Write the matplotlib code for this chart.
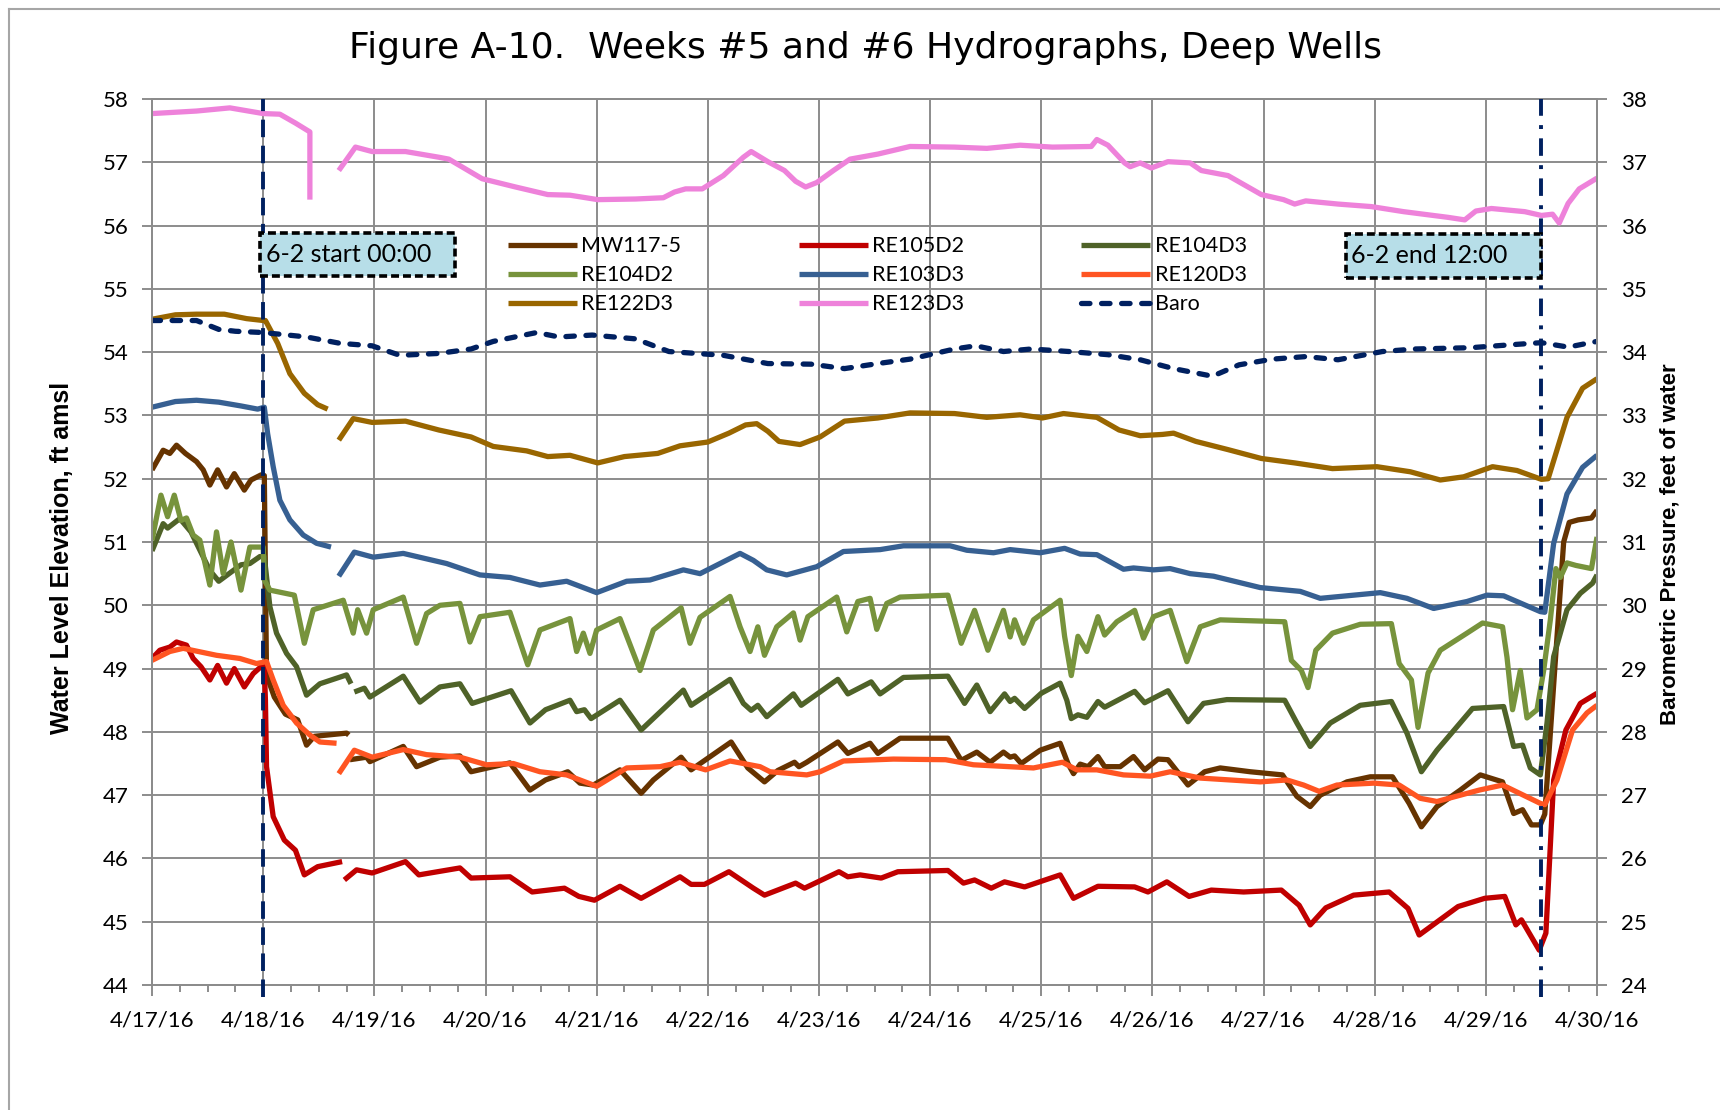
import numpy as np
import matplotlib.pyplot as plt
from matplotlib.lines import Line2D
from matplotlib.patches import Rectangle

# time is days since 4/17/16 00:00, values in ft amsl (Baro in ft of water)
GAP = (np.nan, np.nan)

date_labels = ['4/17/16', '4/18/16', '4/19/16', '4/20/16', '4/21/16', '4/22/16', '4/23/16',
               '4/24/16', '4/25/16', '4/26/16', '4/27/16', '4/28/16', '4/29/16', '4/30/16']

mw117_5 = [(0.00, 52.14), (0.10, 52.45), (0.16, 52.40), (0.22, 52.53), (0.30, 52.40), (0.40, 52.27),
           (0.46, 52.14), (0.52, 51.90), (0.59, 52.14), (0.67, 51.87), (0.74, 52.08), (0.83, 51.82),
           (0.89, 51.98), (0.98, 52.06), (1.01, 52.05), (1.03, 48.90), (1.10, 48.55), (1.20, 48.28),
           (1.31, 48.19), (1.39, 47.79), (1.46, 47.93), (1.75, 47.98), (1.77, 47.95), GAP,
           (1.78, 47.56), (1.93, 47.60), (1.96, 47.53), (2.26, 47.77), (2.38, 47.45), (2.59, 47.60),
           (2.77, 47.62), (2.87, 47.37), (3.22, 47.51), (3.40, 47.08), (3.54, 47.24), (3.74, 47.37),
           (3.85, 47.19), (3.97, 47.16), (4.21, 47.40), (4.40, 47.03), (4.51, 47.24), (4.76, 47.60),
           (4.85, 47.40), (5.21, 47.84), (5.36, 47.43), (5.51, 47.21), (5.63, 47.39), (5.78, 47.52),
           (5.82, 47.45), (5.89, 47.52), (6.17, 47.84), (6.26, 47.66), (6.46, 47.82), (6.53, 47.66),
           (6.73, 47.90), (7.16, 47.90), (7.28, 47.55), (7.42, 47.68), (7.54, 47.52), (7.66, 47.68),
           (7.72, 47.60), (7.76, 47.62), (7.82, 47.50), (7.99, 47.71), (8.17, 47.82), (8.24, 47.50),
           (8.29, 47.34), (8.35, 47.49), (8.42, 47.45), (8.51, 47.61), (8.57, 47.45), (8.71, 47.45),
           (8.83, 47.61), (8.93, 47.40), (9.05, 47.57), (9.14, 47.56), (9.32, 47.16), (9.47, 47.37),
           (9.61, 47.43), (9.88, 47.37), (10.17, 47.32), (10.30, 46.98), (10.42, 46.82), (10.51, 47.00),
           (10.75, 47.21), (10.96, 47.29), (11.16, 47.29), (11.31, 46.87), (11.42, 46.50), (11.56, 46.82),
           (11.77, 47.08), (11.95, 47.32), (12.15, 47.21), (12.25, 46.71), (12.33, 46.77), (12.41, 46.53),
           (12.49, 46.53), (12.53, 46.70), (12.62, 49.00), (12.70, 51.00), (12.75, 51.31), (12.83, 51.35),
           (12.95, 51.38), (13.00, 51.50)]

re105d2 = [(0.00, 49.16), (0.07, 49.29), (0.16, 49.34), (0.22, 49.42), (0.31, 49.37), (0.37, 49.16),
           (0.44, 49.03), (0.52, 48.82), (0.59, 49.05), (0.67, 48.77), (0.74, 49.00), (0.83, 48.71),
           (0.91, 48.92), (0.98, 49.03), (1.01, 49.03), (1.02, 48.50), (1.03, 47.45), (1.09, 46.66),
           (1.19, 46.29), (1.29, 46.13), (1.37, 45.74), (1.49, 45.87), (1.71, 45.95), GAP,
           (1.73, 45.66), (1.84, 45.82), (1.98, 45.77), (2.28, 45.95), (2.40, 45.74), (2.77, 45.85),
           (2.87, 45.69), (3.22, 45.71), (3.42, 45.47), (3.71, 45.53), (3.84, 45.40), (3.98, 45.34),
           (4.21, 45.56), (4.40, 45.37), (4.75, 45.71), (4.85, 45.59), (4.97, 45.59), (5.19, 45.79),
           (5.41, 45.53), (5.51, 45.42), (5.79, 45.61), (5.87, 45.53), (6.18, 45.79), (6.26, 45.71),
           (6.37, 45.74), (6.56, 45.69), (6.71, 45.79), (7.16, 45.81), (7.30, 45.61), (7.40, 45.66),
           (7.55, 45.53), (7.67, 45.63), (7.85, 45.55), (8.17, 45.74), (8.29, 45.37), (8.51, 45.56),
           (8.84, 45.55), (8.96, 45.47), (9.13, 45.63), (9.33, 45.40), (9.53, 45.50), (9.82, 45.47),
           (10.16, 45.50), (10.32, 45.26), (10.42, 44.95), (10.56, 45.22), (10.81, 45.42), (11.13, 45.47),
           (11.30, 45.21), (11.40, 44.79), (11.75, 45.24), (11.99, 45.37), (12.17, 45.40), (12.27, 44.95),
           (12.32, 45.03), (12.48, 44.55), (12.54, 44.82), (12.61, 47.24), (12.72, 48.03), (12.85, 48.45),
           (13.00, 48.61)]

re104d3 = [(0.00, 50.86), (0.10, 51.29), (0.14, 51.22), (0.25, 51.37), (0.35, 51.16), (0.52, 50.55),
           (0.60, 50.38), (0.80, 50.64), (0.88, 50.66), (0.97, 50.77), (1.01, 50.77), (1.06, 49.98),
           (1.12, 49.56), (1.21, 49.24), (1.30, 49.03), (1.39, 48.58), (1.51, 48.76), (1.75, 48.90),
           (1.79, 48.76), GAP, (1.82, 48.63), (1.91, 48.69), (1.96, 48.55), (2.26, 48.88), (2.41, 48.47),
           (2.59, 48.71), (2.77, 48.76), (2.88, 48.45), (3.23, 48.65), (3.40, 48.14), (3.54, 48.35),
           (3.76, 48.50), (3.82, 48.32), (3.89, 48.35), (3.95, 48.21), (4.21, 48.50), (4.40, 48.03),
           (4.78, 48.66), (4.85, 48.42), (5.20, 48.83), (5.32, 48.45), (5.39, 48.34), (5.45, 48.42),
           (5.53, 48.24), (5.77, 48.60), (5.84, 48.42), (6.17, 48.83), (6.26, 48.60), (6.47, 48.79),
           (6.55, 48.60), (6.76, 48.86), (7.16, 48.88), (7.31, 48.45), (7.42, 48.74), (7.54, 48.32),
           (7.67, 48.60), (7.72, 48.48), (7.76, 48.53), (7.85, 48.37), (8.00, 48.61), (8.17, 48.77),
           (8.23, 48.50), (8.27, 48.21), (8.33, 48.27), (8.41, 48.23), (8.51, 48.48), (8.57, 48.39),
           (8.84, 48.64), (8.93, 48.46), (9.14, 48.65), (9.32, 48.16), (9.46, 48.45), (9.67, 48.51),
           (10.19, 48.50), (10.30, 48.14), (10.42, 47.77), (10.60, 48.14), (10.87, 48.42), (11.15, 48.48),
           (11.29, 47.98), (11.42, 47.37), (11.56, 47.71), (11.88, 48.37), (12.16, 48.40), (12.25, 47.77),
           (12.33, 47.79), (12.40, 47.43), (12.49, 47.32), (12.55, 48.14), (12.61, 49.19), (12.73, 49.93),
           (12.85, 50.19), (12.96, 50.35), (13.00, 50.48)]

re104d2 = [(0.00, 51.03), (0.08, 51.74), (0.14, 51.40), (0.20, 51.74), (0.26, 51.34), (0.31, 51.38),
           (0.37, 51.11), (0.43, 51.03), (0.52, 50.32), (0.58, 51.16), (0.64, 50.50), (0.71, 51.00),
           (0.80, 50.24), (0.88, 50.92), (1.00, 50.92), (1.01, 50.40), (1.06, 50.24), (1.28, 50.16),
           (1.37, 49.40), (1.45, 49.93), (1.72, 50.08), (1.81, 49.56), (1.85, 49.93), (1.93, 49.56),
           (1.99, 49.93), (2.26, 50.13), (2.38, 49.40), (2.47, 49.87), (2.59, 50.00), (2.77, 50.03),
           (2.86, 49.42), (2.95, 49.82), (3.22, 49.89), (3.38, 49.06), (3.49, 49.61), (3.76, 49.79),
           (3.82, 49.27), (3.88, 49.56), (3.94, 49.24), (4.00, 49.61), (4.21, 49.79), (4.39, 48.97),
           (4.51, 49.61), (4.76, 49.96), (4.84, 49.40), (4.93, 49.81), (5.20, 50.14), (5.29, 49.66),
           (5.38, 49.27), (5.45, 49.66), (5.51, 49.21), (5.62, 49.66), (5.77, 49.88), (5.83, 49.45),
           (5.90, 49.82), (6.16, 50.13), (6.25, 49.58), (6.35, 50.06), (6.46, 50.11), (6.52, 49.62),
           (6.61, 50.03), (6.73, 50.13), (7.16, 50.16), (7.28, 49.40), (7.40, 49.92), (7.52, 49.29),
           (7.66, 49.92), (7.72, 49.50), (7.76, 49.77), (7.84, 49.40), (7.93, 49.77), (8.17, 50.08),
           (8.21, 49.51), (8.27, 48.89), (8.33, 49.51), (8.41, 49.27), (8.51, 49.82), (8.57, 49.53),
           (8.68, 49.74), (8.84, 49.92), (8.92, 49.48), (9.01, 49.82), (9.16, 49.92), (9.31, 49.11),
           (9.43, 49.66), (9.61, 49.77), (10.19, 49.74), (10.25, 49.13), (10.34, 48.97), (10.40, 48.70),
           (10.47, 49.29), (10.62, 49.56), (10.87, 49.70), (11.15, 49.71), (11.22, 49.08), (11.33, 48.82),
           (11.39, 48.07), (11.48, 48.93), (11.59, 49.29), (11.83, 49.56), (11.97, 49.72), (12.15, 49.66),
           (12.19, 49.18), (12.24, 48.35), (12.31, 48.97), (12.37, 48.22), (12.46, 48.35), (12.52, 48.97),
           (12.58, 49.77), (12.63, 50.58), (12.67, 50.44), (12.73, 50.67), (12.81, 50.63), (12.95, 50.58),
           (13.00, 51.08)]

re103d3 = [(0.00, 53.13), (0.21, 53.22), (0.40, 53.24), (0.60, 53.21), (0.80, 53.15), (0.95, 53.10),
           (1.01, 53.13), (1.04, 52.71), (1.09, 52.19), (1.15, 51.66), (1.24, 51.35), (1.36, 51.11),
           (1.48, 50.98), (1.61, 50.92), GAP, (1.68, 50.46), (1.82, 50.84), (1.99, 50.76), (2.26, 50.82),
           (2.65, 50.66), (2.95, 50.48), (3.22, 50.44), (3.49, 50.32), (3.73, 50.38), (4.00, 50.20),
           (4.27, 50.38), (4.48, 50.40), (4.78, 50.56), (4.93, 50.50), (5.29, 50.82), (5.41, 50.71),
           (5.53, 50.56), (5.71, 50.48), (5.98, 50.61), (6.22, 50.85), (6.55, 50.88), (6.76, 50.94),
           (7.18, 50.94), (7.33, 50.87), (7.57, 50.83), (7.72, 50.88), (7.99, 50.83), (8.21, 50.90),
           (8.35, 50.81), (8.50, 50.80), (8.74, 50.57), (8.83, 50.59), (9.01, 50.56), (9.16, 50.58),
           (9.34, 50.50), (9.55, 50.46), (9.97, 50.28), (10.33, 50.22), (10.51, 50.11), (11.05, 50.20),
           (11.29, 50.11), (11.53, 49.95), (11.83, 50.06), (12.01, 50.16), (12.16, 50.15), (12.49, 49.90),
           (12.53, 49.89), (12.61, 50.98), (12.73, 51.76), (12.87, 52.18), (13.00, 52.37)]

re120d3 = [(0.00, 49.13), (0.16, 49.27), (0.28, 49.32), (0.58, 49.21), (0.79, 49.16), (0.94, 49.08),
           (1.03, 49.11), (1.09, 48.82), (1.18, 48.42), (1.30, 48.14), (1.42, 47.95), (1.51, 47.84),
           (1.66, 47.82), GAP, (1.68, 47.34), (1.82, 47.71), (1.98, 47.60), (2.26, 47.72), (2.47, 47.64),
           (2.77, 47.60), (3.01, 47.48), (3.25, 47.50), (3.49, 47.37), (3.73, 47.32), (4.00, 47.14),
           (4.27, 47.43), (4.57, 47.45), (4.75, 47.52), (4.98, 47.40), (5.20, 47.54), (5.47, 47.45),
           (5.56, 47.37), (5.89, 47.32), (6.01, 47.37), (6.22, 47.54), (6.67, 47.57), (7.14, 47.56),
           (7.39, 47.48), (7.93, 47.43), (8.19, 47.52), (8.32, 47.40), (8.50, 47.40), (8.74, 47.32),
           (8.98, 47.30), (9.16, 47.37), (9.43, 47.27), (9.97, 47.21), (10.21, 47.24), (10.36, 47.16),
           (10.50, 47.06), (10.66, 47.16), (10.99, 47.19), (11.22, 47.16), (11.41, 46.95), (11.56, 46.90),
           (11.94, 47.08), (12.15, 47.16), (12.49, 46.87), (12.53, 46.85), (12.64, 47.24), (12.78, 48.03),
           (12.91, 48.30), (13.00, 48.42)]

re122d3 = [(0.00, 54.52), (0.21, 54.59), (0.40, 54.60), (0.65, 54.60), (0.85, 54.53), (1.00, 54.50),
           (1.02, 54.50), (1.13, 54.14), (1.24, 53.66), (1.37, 53.35), (1.49, 53.17), (1.58, 53.10), GAP,
           (1.68, 52.61), (1.81, 52.95), (1.98, 52.89), (2.28, 52.91), (2.58, 52.77), (2.87, 52.66),
           (3.07, 52.51), (3.37, 52.44), (3.56, 52.35), (3.76, 52.37), (4.01, 52.25), (4.25, 52.35),
           (4.55, 52.40), (4.75, 52.52), (5.00, 52.58), (5.19, 52.72), (5.34, 52.85), (5.44, 52.87),
           (5.54, 52.75), (5.64, 52.59), (5.83, 52.54), (6.01, 52.66), (6.23, 52.91), (6.53, 52.96),
           (6.82, 53.04), (7.22, 53.03), (7.51, 52.97), (7.81, 53.01), (8.01, 52.96), (8.20, 53.03),
           (8.50, 52.97), (8.70, 52.77), (8.89, 52.68), (9.09, 52.70), (9.19, 52.72), (9.39, 52.59),
           (9.68, 52.46), (9.98, 52.32), (10.28, 52.25), (10.62, 52.16), (11.02, 52.19), (11.32, 52.11),
           (11.59, 51.98), (11.80, 52.03), (12.06, 52.19), (12.28, 52.13), (12.50, 51.99), (12.56, 52.00),
           (12.73, 52.97), (12.87, 53.43), (13.00, 53.58)]

re123d3 = [(0.00, 57.77), (0.40, 57.81), (0.70, 57.86), (1.00, 57.77), (1.15, 57.76), (1.29, 57.62),
           (1.42, 57.48), (1.42, 56.41), GAP, (1.68, 56.87), (1.83, 57.24), (1.98, 57.17), (2.28, 57.17),
           (2.58, 57.08), (2.67, 57.05), (2.97, 56.74), (3.27, 56.61), (3.56, 56.49), (3.76, 56.48),
           (4.01, 56.41), (4.35, 56.42), (4.60, 56.44), (4.70, 56.53), (4.80, 56.58), (4.95, 56.58),
           (5.14, 56.79), (5.32, 57.08), (5.39, 57.17), (5.54, 57.01), (5.69, 56.87), (5.79, 56.70),
           (5.88, 56.61), (5.98, 56.68), (6.13, 56.87), (6.28, 57.05), (6.53, 57.13), (6.82, 57.25),
           (7.22, 57.24), (7.51, 57.22), (7.81, 57.27), (8.10, 57.24), (8.45, 57.25), (8.50, 57.36),
           (8.60, 57.27), (8.75, 56.99), (8.80, 56.93), (8.89, 56.99), (8.99, 56.91), (9.14, 57.01),
           (9.34, 56.99), (9.44, 56.87), (9.68, 56.79), (9.98, 56.49), (10.18, 56.41), (10.28, 56.34),
           (10.38, 56.39), (10.67, 56.34), (10.97, 56.30), (11.26, 56.22), (11.66, 56.13), (11.81, 56.09),
           (11.91, 56.23), (12.05, 56.27), (12.35, 56.22), (12.50, 56.16), (12.60, 56.18), (12.66, 56.04),
           (12.74, 56.35), (12.84, 56.58), (13.00, 56.75)]

baro = [(0.00, 34.50), (0.40, 34.50), (0.60, 34.36), (0.75, 34.33), (1.00, 34.31), (1.39, 34.24),
        (1.69, 34.14), (1.98, 34.10), (2.23, 33.95), (2.58, 33.98), (2.87, 34.05), (3.07, 34.17),
        (3.46, 34.31), (3.66, 34.24), (3.96, 34.27), (4.35, 34.21), (4.65, 34.01), (5.14, 33.95),
        (5.54, 33.82), (5.93, 33.81), (6.23, 33.74), (6.53, 33.82), (6.82, 33.89), (7.22, 34.05),
        (7.41, 34.10), (7.66, 34.01), (7.91, 34.05), (8.25, 34.01), (8.60, 33.96), (8.89, 33.88),
        (9.19, 33.74), (9.54, 33.62), (9.78, 33.80), (10.08, 33.89), (10.38, 33.93), (10.67, 33.88),
        (11.07, 34.01), (11.36, 34.05), (11.86, 34.07), (12.25, 34.12), (12.50, 34.15), (12.74, 34.08),
        (13.00, 34.17)]

wells = ['MW117-5', 'RE105D2', 'RE104D3', 'RE104D2', 'RE103D3', 'RE120D3', 'RE122D3', 'RE123D3']
well_data = [mw117_5, re105d2, re104d3, re104d2, re103d3, re120d3, re122d3, re123d3]
colors = {'MW117-5': '#663300', 'RE105D2': '#C00000', 'RE104D3': '#4F6228', 'RE104D2': '#77933C',
          'RE103D3': '#376092', 'RE120D3': '#FF5522', 'RE122D3': '#996600', 'RE123D3': '#EE82DA'}
NAVY = '#002060'
GRID = '#8C8C8C'
LBL_FONT = 'Lato'
LW = 3.8

fig = plt.figure(figsize=(17.2, 11.1), dpi=100)
ax = fig.add_axes([0.0884, 0.1126, 0.8401, 0.7982])

handles = {}
for name, pts in zip(wells, well_data):
    arr = np.array(pts, dtype=float)
    h, = ax.plot(arr[:, 0], arr[:, 1], color=colors[name], lw=LW,
                 solid_joinstyle='round', solid_capstyle='butt', label=name)
    handles[name] = h

ax.set_xlim(0, 13)
ax.set_ylim(44, 58)
ax.set_xticks(range(len(date_labels)))
ax.set_xticklabels(date_labels, fontfamily=LBL_FONT, fontsize=16)
ax.set_xticks(np.arange(0, 13.01, 0.25), minor=True)
ax.set_yticks(range(44, 59))
ax.set_yticklabels([str(v) for v in range(44, 59)], fontfamily=LBL_FONT, fontsize=16)
ax.grid(which='major', color=GRID, lw=1.4)
ax.set_axisbelow(True)
ax.tick_params(axis='x', which='major', length=8, width=1.4, color=GRID, pad=10)
ax.tick_params(axis='x', which='minor', length=5, width=1.4, color=GRID)
ax.tick_params(axis='y', which='major', length=7, width=1.4, color=GRID, pad=10)
for sp in ax.spines.values():
    sp.set_color(GRID)
    sp.set_linewidth(1.4)

ax2 = ax.twinx()
ax2.set_ylim(24, 38)
ax2.set_yticks(range(24, 39))
ax2.set_yticklabels([str(v) for v in range(24, 39)], fontfamily=LBL_FONT, fontsize=16)
ax2.tick_params(axis='y', which='major', length=7, width=1.4, color=GRID, pad=10)
for sp in ax2.spines.values():
    sp.set_color(GRID)
    sp.set_linewidth(1.4)

barr = np.array(baro)
hb, = ax2.plot(barr[:, 0], barr[:, 1], color=NAVY, lw=LW, ls=(0, (1.6, 2.2)),
               dash_capstyle='round', label='Baro')
handles['Baro'] = hb

# test period markers
ax2.axvline(1.0, ymin=-0.013, ymax=1, clip_on=False, color=NAVY, lw=2.8, ls=(0, (4.5, 2.2)), zorder=4)
ax2.axvline(12.5, ymin=-0.013, ymax=1, clip_on=False, color=NAVY, lw=2.8,
            ls=(0, (4.5, 2.4, 1, 2.4)), zorder=4)

for (x0, x1, y0, y1, txt) in [(0.0747, 0.2097, 0.800, 0.849, '6-2 start 00:00'),
                              (0.826, 0.961, 0.798, 0.848, '6-2 end 12:00')]:
    ax2.add_patch(Rectangle((x0, y0), x1 - x0, y1 - y0, transform=ax2.transAxes,
                            facecolor='#B7DEE8', edgecolor='black', lw=2.6,
                            ls=(0, (2.2, 1.1)), zorder=6))
    ax2.text(x0 + 0.004, (y0 + y1) / 2, txt, transform=ax2.transAxes, ha='left', va='center',
             fontfamily=LBL_FONT, fontsize=18, zorder=7)

order = ['MW117-5', 'RE104D2', 'RE122D3', 'RE105D2', 'RE103D3', 'RE123D3',
         'RE104D3', 'RE120D3', 'Baro']
leg = ax2.legend([handles[n] for n in order], order, ncol=3, loc='upper left',
                 bbox_to_anchor=(0.239, 0.857), frameon=False, borderpad=0,
                 handlelength=3.2, handletextpad=0.2, columnspacing=5.45, labelspacing=0.41,
                 prop={'family': LBL_FONT, 'size': 15.5})
leg.set_zorder(8)

fig.text(0.503, 0.957, 'Figure A-10.  Weeks #5 and #6 Hydrographs, Deep Wells',
         ha='center', va='center', fontfamily='DejaVu Sans', fontsize=26)
fig.text(0.036, 0.497, 'Water Level Elevation, ft amsl', rotation=90, ha='center', va='center',
         fontfamily='Liberation Sans', fontweight='bold', fontsize=18)
fig.text(0.971, 0.51, 'Barometric Pressure, feet of water', rotation=90, ha='center', va='center',
         fontfamily='Liberation Sans', fontweight='bold', fontsize=16)

# outer chart frame (clipped at right and bottom in the source)
fig.add_artist(Line2D([0.0051, 1.0], [0.992, 0.992], transform=fig.transFigure, color='#A6A6A6', lw=1.5))
fig.add_artist(Line2D([0.0051, 0.0051], [0.0, 0.992], transform=fig.transFigure, color='#A6A6A6', lw=1.5))

fig.savefig('out.png', dpi=100)
